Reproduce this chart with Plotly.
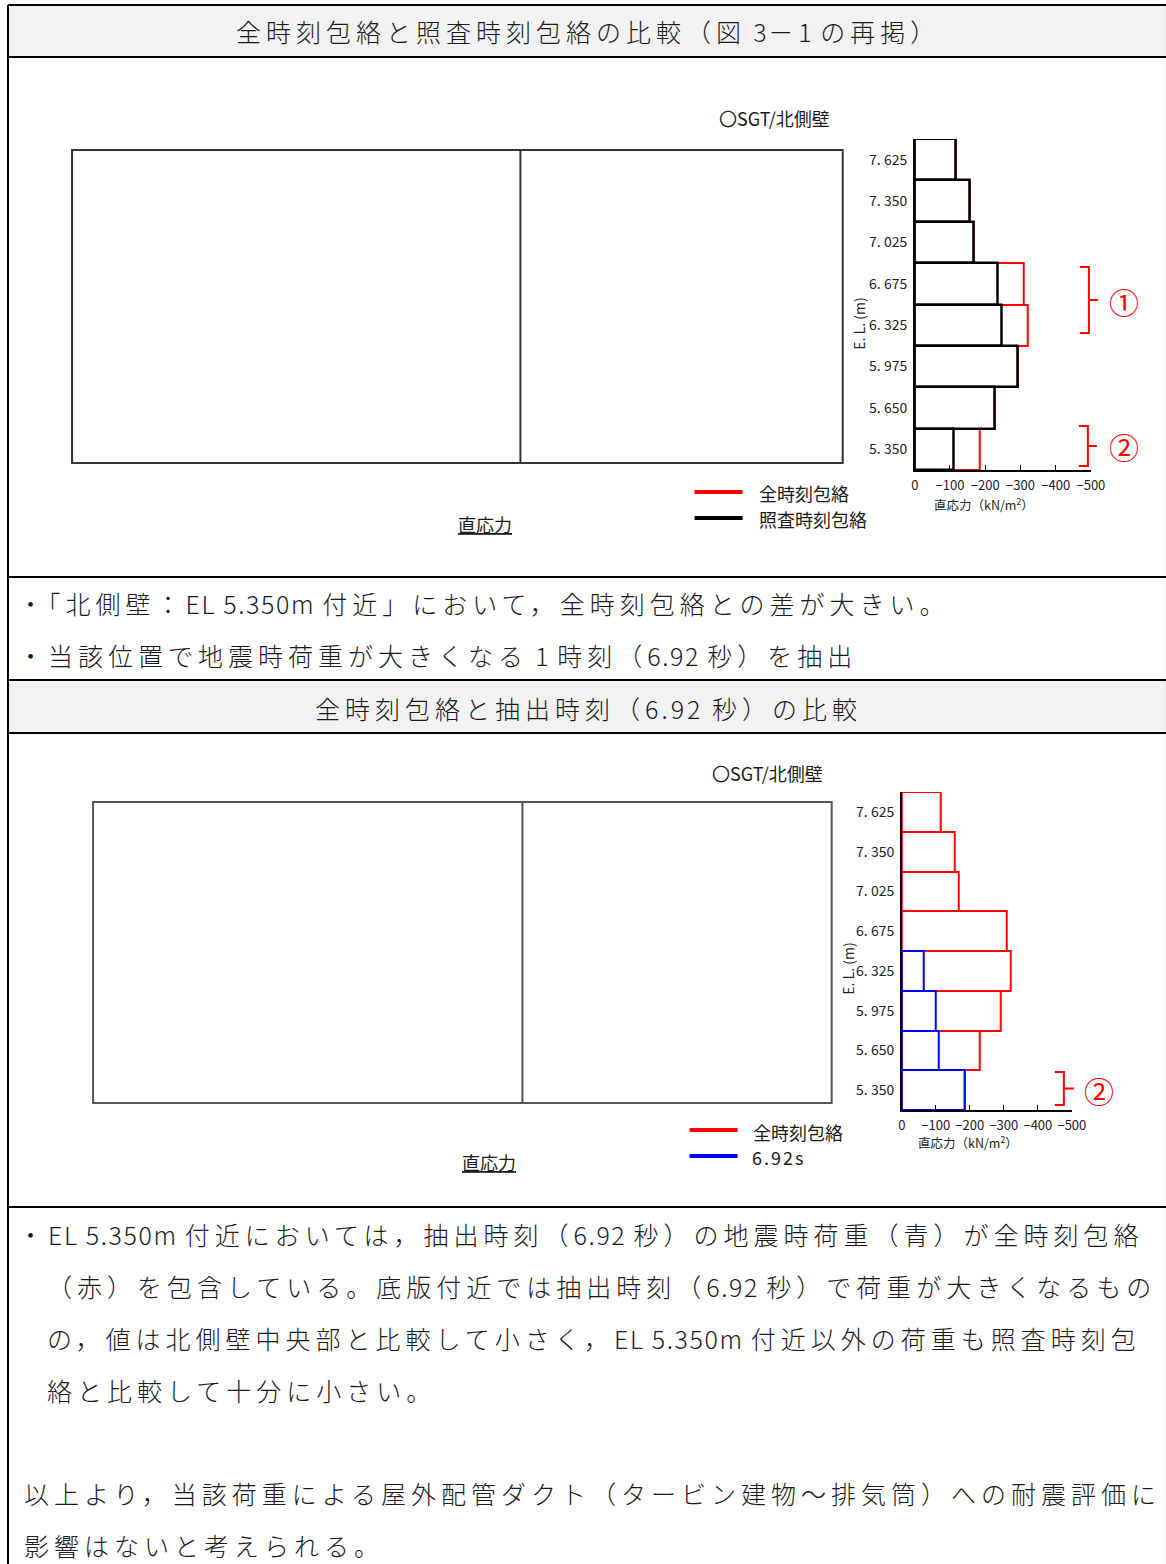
"""Envelope comparison sheet: two stress-profile bar charts inside a bordered table."""

import re

import plotly.graph_objects as go

# the photographed page comes out squeezed a little in x; page coords are
# mapped so the sheet lands where the reference has it
W, H = 1185, 1564
SX, OX = 0.984, 4
JP = "Noto Sans CJK JP"

# ---- data -----------------------------------------------------------------
ELEVATIONS = ["5.350", "5.650", "5.975", "6.325", "6.675", "7.025", "7.350", "7.625"]
ELEV_LABELS = ["5. 350", "5. 650", "5. 975", "6. 325", "6. 675", "7. 025", "7. 350", "7. 625"]
ENV_ALL = [-185, -228, -292, -321, -309, -168, -155, -116]      # 全時刻包絡
ENV_CHECK = [-111, -227, -292, -248, -236, -168, -155, -116]    # 照査時刻包絡
T_692 = [-185, -110, -100, -66, None, None, None, None]         # 6.92s
X_TICKS = [0, -100, -200, -300, -400, -500]
X_TICK_LABELS = ["0", "−100", "−200", "−300", "−400", "−500"]

HEADER_1 = "全時刻包絡と照査時刻包絡の比較（図 3－1 の再掲）"
HEADER_2 = "全時刻包絡と抽出時刻（6.92 秒）の比較"
NOTES_MID = [
    "・「北側壁：EL 5.350m 付近」において，全時刻包絡との差が大きい。",
    "・当該位置で地震時荷重が大きくなる 1 時刻（6.92 秒）を抽出",
]
NOTES_END = [
    "・EL 5.350m 付近においては，抽出時刻（6.92 秒）の地震時荷重（青）が全時刻包絡",
    "（赤）を包含している。底版付近では抽出時刻（6.92 秒）で荷重が大きくなるもの",
    "の，値は北側壁中央部と比較して小さく，EL 5.350m 付近以外の荷重も照査時刻包",
    "絡と比較して十分に小さい。",
    "以上より，当該荷重による屋外配管ダクト（タービン建物～排気筒）への耐震評価に",
    "影響はないと考えられる。",
]


def fx(x):
    return (x - OX) / SX / W


def fy(y):
    return 1 - y / H


def line(x0, y0, x1, y1, color="black", width=2):
    return dict(type="line", xref="paper", yref="paper",
                x0=fx(x0), y0=fy(y0), x1=fx(x1), y1=fy(y1),
                line=dict(color=color, width=width))


def rect(x0, y0, x1, y1, color="#333", width=2, fill="rgba(0,0,0,0)"):
    return dict(type="rect", xref="paper", yref="paper", layer="below",
                x0=fx(x0), y0=fy(y0), x1=fx(x1), y1=fy(y1),
                line=dict(color=color, width=width), fillcolor=fill)


def path(points_groups, color="red", width=2):
    parts = []
    for grp in points_groups:
        parts.append("M " + " L ".join(f"{fx(x):.5f},{fy(y):.5f}" for x, y in grp))
    return dict(type="path", xref="paper", yref="paper", path=" ".join(parts),
                line=dict(color=color, width=width))


def bracket(x_left, x_mid, x_nub, y_top, y_bot):
    y_c = (y_top + y_bot) / 2
    return path([[(x_left, y_top), (x_mid, y_top), (x_mid, y_bot), (x_left, y_bot)],
                 [(x_mid, y_c), (x_nub, y_c)]])


def spaced(s, fw=5.0, hw=1.6):
    # wide tracking on full-width glyphs, a little on latin runs
    out = []
    for run in re.findall(r"[\x20-\x7e]+|[^\x20-\x7e]+", s):
        ls = hw if run[0].isascii() else fw
        out.append(f"<span style='letter-spacing:{ls}px'>{run}</span>")
    return "".join(out)


def text(x, y, s, size=25, anchor="left", color="#1a1a1a", angle=0, weight=None):
    font = dict(family=JP, size=size, color=color)
    if weight:
        font["weight"] = weight
    return dict(x=fx(x), y=fy(y), xref="paper", yref="paper", text=s,
                showarrow=False, xanchor=anchor, yanchor="middle",
                textangle=angle, font=font)


def bar(vals, color, width, suffix):
    return go.Bar(
        x=vals, y=ELEVATIONS, orientation="h", width=1,
        xaxis="x" + suffix, yaxis="y" + suffix,
        marker=dict(color="rgba(0,0,0,0)", line=dict(color=color, width=width)),
        showlegend=False, hoverinfo="skip",
    )


def axes(x0, x1, y_top, y_bot, suffix):
    xa = dict(
        domain=[fx(x0), fx(x1)], anchor="y" + suffix, range=[0, -500],
        tickvals=X_TICKS, ticktext=X_TICK_LABELS, ticks="inside", ticklen=5,
        tickcolor="black", showline=True, linecolor="black", linewidth=1.5,
        showgrid=False, zeroline=False, ticklabelstandoff=3,
        tickfont=dict(family=JP, size=13, color="#222"),
        fixedrange=True,
    )
    ya = dict(
        domain=[fy(y_bot), fy(y_top)], anchor="x" + suffix, type="category",
        categoryorder="array", categoryarray=ELEVATIONS,
        tickvals=ELEVATIONS, ticktext=ELEV_LABELS, range=[-0.5, 7.5],
        showline=True, linecolor="black", linewidth=1.5, ticks="",
        showgrid=False, zeroline=False, ticklabelstandoff=3,
        tickfont=dict(family=JP, size=14, color="#222"),
        fixedrange=True,
    )
    return xa, ya


fig = go.Figure()

# chart 1: all-time envelope (red) vs check-time envelope (black)
fig.add_trace(bar(ENV_ALL, "red", 2, ""))
fig.add_trace(bar(ENV_CHECK, "black", 2.5, ""))
# chart 2: all-time envelope (red) vs extracted time 6.92 s (blue)
fig.add_trace(bar(ENV_ALL, "red", 2, "2"))
fig.add_trace(bar(T_692, "blue", 2, "2"))

xa1, ya1 = axes(914, 1090, 139, 470, "")
xa2, ya2 = axes(901, 1071, 792, 1110, "2")

shapes = [
    # header fills
    rect(8, 5, 1170, 57, color="rgba(0,0,0,0)", width=0, fill="#f2f2f2"),
    rect(8, 680, 1170, 733, color="rgba(0,0,0,0)", width=0, fill="#f2f2f2"),
    # table borders
    line(8, 5, 8, 1564), line(1166, 5, 1166, 1564), line(8, 5, 1170, 5),
    line(8, 57, 1170, 57), line(8, 577, 1170, 577), line(8, 680, 1170, 680),
    line(8, 733, 1170, 733), line(8, 1207, 1170, 1207),
    # blank model panels
    rect(72, 150, 842, 463, color="#333"), line(520, 150, 520, 463, color="#333"),
    rect(93, 802, 831, 1103, color="#555"), line(522, 802, 522, 1103, color="#555"),
    # legend keys
    line(694, 492, 742, 492, color="red", width=4),
    line(694, 518, 742, 518, color="black", width=4),
    line(689, 1130, 737, 1130, color="red", width=4),
    line(689, 1156, 737, 1156, color="blue", width=4),
    # red braces
    bracket(1079, 1088, 1097, 267, 333),
    bracket(1078, 1087, 1096, 426, 466),
    bracket(1054, 1063, 1073, 1072, 1105),
]

UNDERLINED = "<span style='text-decoration:underline'>直応力</span>"
X_TITLE = "直応力（kN/m<sup>2</sup>）"
annotations = [
    text(588, 31, spaced(HEADER_1), anchor="center", weight=300),
    text(588, 708, spaced(HEADER_2, 5.0, 3), anchor="center", weight=300),
    text(774, 118, "〇SGT/北側壁", size=18, anchor="center"),
    text(767, 773, "〇SGT/北側壁", size=18, anchor="center"),
    text(756, 493, "全時刻包絡", size=18),
    text(756, 519, "照査時刻包絡", size=18),
    text(750, 1132, "全時刻包絡", size=18),
    text(749, 1157, spaced("6.92s", 0, 2), size=18),
    text(485, 524, UNDERLINED, size=18, anchor="center"),
    text(489, 1162, UNDERLINED, size=18, anchor="center"),
    text(983, 504, X_TITLE, size=12.5, anchor="center", color="#222"),
    text(967, 1142, X_TITLE, size=12.5, anchor="center", color="#222"),
    text(858, 324, "E. L. (m)", size=14, anchor="center", color="#222", angle=-90),
    text(847, 969, "E. L. (m)", size=14, anchor="center", color="#222", angle=-90),
    text(1123, 301, "①", size=30, anchor="center", color="red"),
    text(1123, 446, "②", size=30, anchor="center", color="red"),
    text(1098, 1090, "②", size=30, anchor="center", color="red"),
]
mid_y = [603, 655]
for y, s in zip(mid_y, NOTES_MID):
    annotations.append(text(16, y, spaced(s), weight=300))
end_pos = [(16, 1234), (45, 1286), (45, 1338), (45, 1390), (22, 1493), (22, 1545)]
for (x, y), s in zip(end_pos, NOTES_END):
    annotations.append(text(x, y, spaced(s), weight=300))

fig.update_layout(
    width=W, height=H,
    margin=dict(l=0, r=0, t=0, b=0),
    paper_bgcolor="white", plot_bgcolor="rgba(0,0,0,0)",
    barmode="overlay", bargap=0,
    font=dict(family=JP, color="#222"),
    xaxis=xa1, yaxis=ya1, xaxis2=xa2, yaxis2=ya2,
    shapes=shapes, annotations=annotations,
)

# page body margin would shift the sheet; pin the figure to the window corner
fig.write_html(
    "out.html",
    config={"displayModeBar": False},
    post_script="document.body.style.margin='0';document.body.style.overflow='hidden';",
)
